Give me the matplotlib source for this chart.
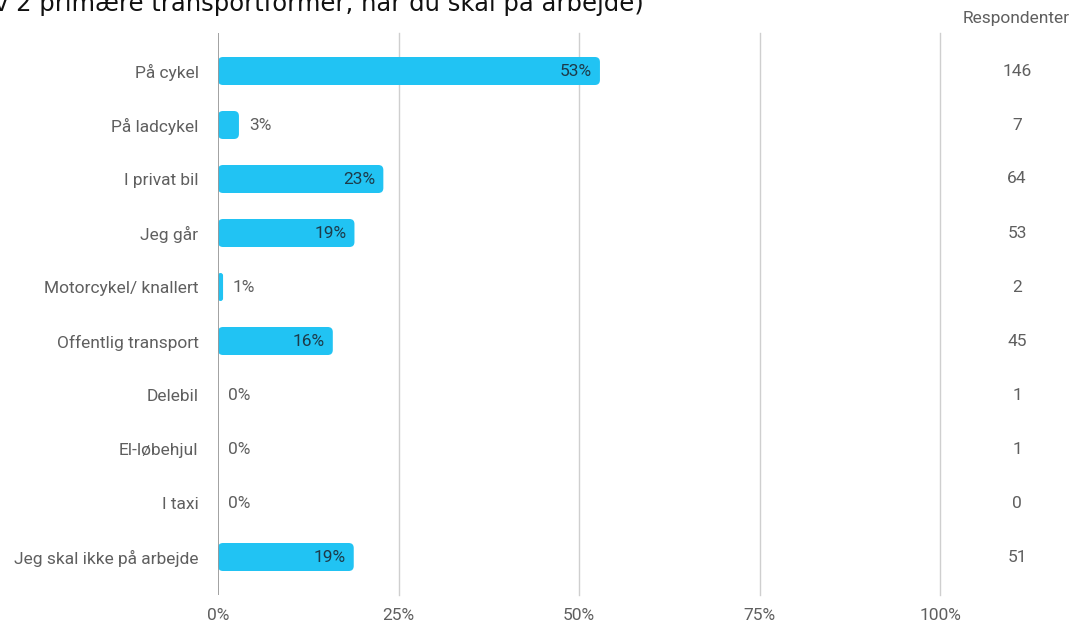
import matplotlib.pyplot as plt
from matplotlib.patches import FancyBboxPatch

plt.rcParams['font.family'] = ['Roboto', 'DejaVu Sans']

categories = ["På cykel", "På ladcykel", "I privat bil", "Jeg går",
              "Motorcykel/ knallert", "Offentlig transport", "Delebil",
              "El-løbehjul", "I taxi", "Jeg skal ikke på arbejde"]
percent = [52.9, 2.9, 22.9, 18.9, 0.7, 15.9, 0, 0, 0, 18.8]
respondents = [146, 7, 64, 53, 2, 45, 1, 1, 0, 51]
xticks = [0, 25, 50, 75, 100]

bar_color = '#21C3F3'
label_gray = '#5f5f5f'
fs = 12.5

fig = plt.figure(figsize=(10.74, 6.21), dpi=100)
ax = fig.add_axes([218/1074, (621-595)/621, (940-218)/1074, (595-33)/621])

row_px = 54.0
bar_h = 28/row_px
# px -> data scale for rounded corners
x_per_px = 100/722
y_per_px = 1/row_px
for i, v in enumerate(percent):
    if v <= 0:
        continue
    r = min(5*x_per_px, v/2)
    p = FancyBboxPatch((0, i - bar_h/2), v, bar_h,
                       boxstyle=f"round,pad=0,rounding_size={r}",
                       mutation_aspect=y_per_px/x_per_px,
                       facecolor=bar_color, edgecolor='none', zorder=3)
    ax.add_patch(p)
    txt = f"{round(v)}%"
    if v > 10:
        ax.text(v - 8*x_per_px, i, txt, ha='right', va='center',
                fontsize=fs, color='#1d3b4a', zorder=4)
    else:
        ax.text(v + 10*x_per_px, i, txt, ha='left', va='center',
                fontsize=fs, color=label_gray, zorder=4)
for i, v in enumerate(percent):
    if v <= 0:
        ax.text(10*x_per_px, i, "0%", ha='left', va='center',
                fontsize=fs, color=label_gray, zorder=4)

ax.set_xlim(0, 100)
ax.set_ylim(9 + 38/row_px, -38/row_px)
ax.set_yticks(range(len(categories)))
ax.set_yticklabels(categories, fontsize=fs, color=label_gray)
ax.set_xticks(xticks)
ax.set_xticklabels([f"{t}%" for t in xticks], fontsize=fs, color=label_gray)
ax.tick_params(axis='both', length=0)
ax.tick_params(axis='y', pad=14)
ax.tick_params(axis='x', pad=9)
for s in ax.spines.values():
    s.set_visible(False)
for t in xticks[1:]:
    ax.axvline(t, color='#cfcfcf', lw=1, zorder=1, clip_on=False)
ax.axvline(0, color='#9a9a9a', lw=1.3, zorder=5)

# respondents column
for i, n in enumerate(respondents):
    fig.text(1017/1074, 1 - (71 + i*row_px)/621, str(n),
             fontsize=fs, color=label_gray, ha='center', va='center')
fig.text(1070/1074, 1 - 18/621, "Respondenter", ha='right', va='center',
         fontsize=fs, color=label_gray)

fig.text(-6/1074, 1 - 11/621,
         "v 2 primære transportformer, når du skal på arbejde)",
         family=['DejaVu Sans'], fontsize=17.5, color='#111111',
         ha='left', va='baseline')

fig.savefig('out.png', dpi=100)
